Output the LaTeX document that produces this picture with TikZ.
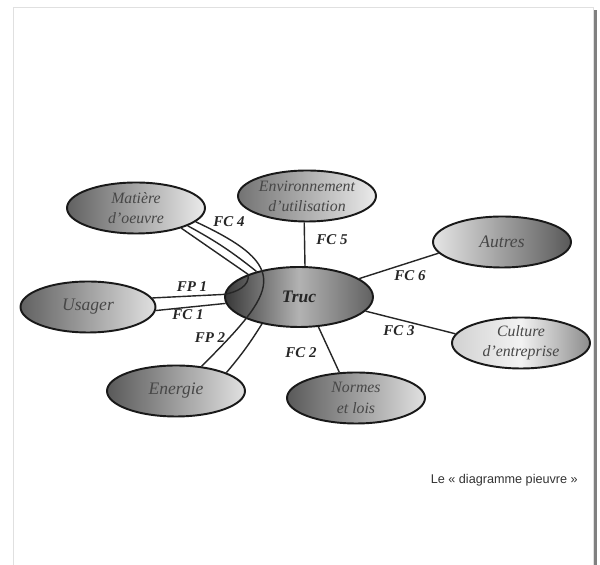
\documentclass[tikz,border=0pt]{standalone}
\usepackage{fontspec}
\setmainfont{Liberation Serif}
\newfontfamily\captionfont{Liberation Sans}
\usetikzlibrary{shapes.geometric}
\begin{document}
\begin{tikzpicture}[x=0.02cm,y=0.02cm,
    pod/.style={ellipse,draw=black!90,line width=1.1pt,inner sep=0pt,
      minimum width=2.76cm,minimum height=1.02cm,align=center,
      font=\itshape\fontsize{10}{12}\selectfont,text=black!72},
    twoline/.style={font=\itshape\fontsize{9}{11.5}\selectfont},
    arm/.style={line width=0.8pt,draw=black!85},
    fclabel/.style={font=\bfseries\itshape\fontsize{8.5}{9}\selectfont,text=black!85}]
    \useasboundingbox (0,0) rectangle (600,565);
    % page and its shadow
    \fill[black!50] (593,-5) rectangle (597,555);
    \draw[black!12,fill=white] (13,-5) rectangle (593,558);

    \node[pod,twoline,left color=black!62,right color=black!8] (matiere) at (136,357) {Matière\\d’oeuvre};
    \node[pod,twoline,left color=black!55,right color=black!8] (env) at (307,369) {Environnement\\d’utilisation};
    \node[pod,left color=black!10,right color=black!65] (autres) at (502,323) {Autres};
    \node[pod,left color=black!62,right color=black!12,minimum width=2.7cm] (usager) at (88,258) {Usager};
    \node[pod,left color=black!78,right color=black!62,middle color=black!30,
      minimum width=2.96cm,minimum height=1.2cm,text=black!85,font=\bfseries\itshape\fontsize{10}{12}\selectfont] (truc) at (299,268) {Truc};
    \node[pod,twoline,left color=black!18,right color=black!45,middle color=black!5] (culture) at (521,222) {Culture\\d’entreprise};
    \node[pod,left color=black!65,right color=black!12] (energie) at (176,174) {Energie};
    \node[pod,twoline,left color=black!65,right color=black!12] (normes) at (356,167) {Normes\\et lois};

    \draw[arm] (env.264) -- (truc.79);
    \draw[arm] (truc.17) -- (autres.190);
    \draw[arm] (truc.-12) -- (culture.172);
    \draw[arm] (truc.-57) -- (normes.123);
    \draw[arm] (usager.8) -- (truc.178) to[out=10,in=-80] (truc.156) -- (matiere.-24);
    \draw[arm] (usager.-3) -- (truc.185);
    \draw[arm] (matiere.-19) to[bend left=5] (truc.149);
    \draw[arm] (matiere.-13) to[out=-25,in=45,looseness=1.9] (energie.44);
    \draw[arm] (energie.20) to[bend right=4] (truc.216);

    \node[fclabel] (fc4) at (229,343) {FC 4};
    \node[fclabel] (fc5) at (332,325) {FC 5};
    \node[fclabel] (fc6) at (410,289) {FC 6};
    \node[fclabel] (fc3) at (399,234) {FC 3};
    \node[fclabel] (fc2) at (301,212) {FC 2};
    \node[fclabel] (fp1) at (192,278) {FP 1};
    \node[fclabel] (fc1) at (188,250) {FC 1};
    \node[fclabel] (fp2) at (210,227) {FP 2};

    \node[anchor=east,font=\captionfont\fontsize{7.2}{8}\selectfont,text=black!80] (legende) at (584,85) {Le « diagramme pieuvre »};
\end{tikzpicture}
\end{document}
